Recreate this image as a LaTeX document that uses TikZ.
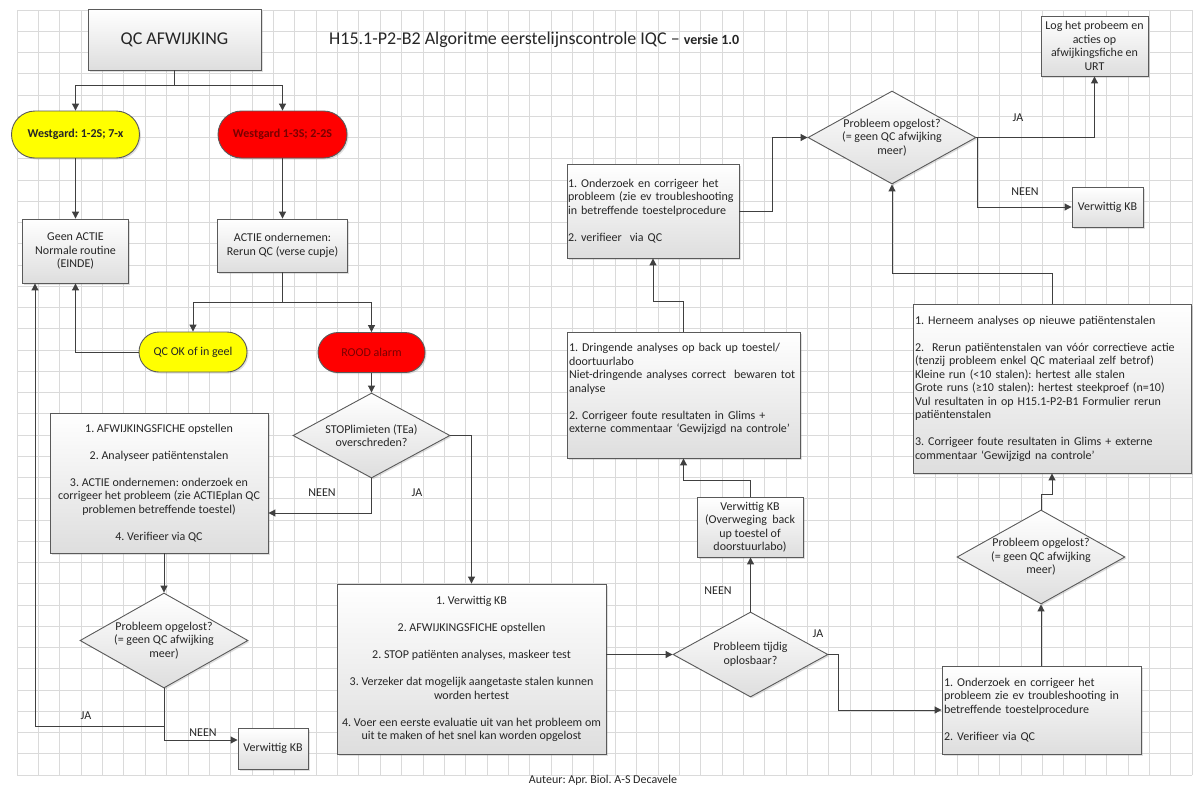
\documentclass[tikz,border=0pt]{standalone}
\usepackage{fontspec}
\setmainfont{Carlito}
\usetikzlibrary{shapes.geometric,shapes.misc,shadows,arrows.meta}
\definecolor{lijn}{HTML}{404040}
\definecolor{rand}{HTML}{5A5A5A}
\definecolor{raster}{HTML}{DADADA}
\definecolor{donkerrood}{HTML}{7A0000}
\definecolor{geel}{HTML}{FFFF00}
\definecolor{rood}{HTML}{FF0000}
\newcommand{\tekst}{\fontsize{12}{13.5}\selectfont}
\frenchspacing
\hyphenpenalty=10000

\begin{document}
\begin{tikzpicture}[x=1pt,y=1pt,
	every node/.style={inner sep=0pt,text=black!85},
	schaduw/.style={drop shadow={opacity=0.25,shadow xshift=1.5pt,shadow yshift=-1.5pt}},
	doos/.style={draw=rand,line width=0.9pt,top color=white,bottom color=black!13,schaduw,font=\tekst},
	midden/.style={doos,align=center},
	links/.style={doos,align=left,text width=#1},
	ovaal/.style={rounded rectangle,draw=rand,line width=0.9pt,schaduw,font=\tekst},
	keuze/.style={diamond,draw=rand,line width=0.9pt,top color=white,bottom color=black!13,schaduw},
	pijl/.style={draw=lijn,line width=1pt,-{Triangle[length=7pt,width=7pt]}},
	lijntje/.style={draw=lijn,line width=1pt},
	antw/.style={font=\tekst}]
							\fill [white] (0,0) rectangle (1200,-785);
							\useasboundingbox (0,0) rectangle (1200,-785);
							\foreach \i in {0,...,55}
								\draw [raster,line width=0.7pt] ({17+\i*21.364},-10) -- ++(0,-765);
							\foreach \j in {0,...,36}
								\draw [raster,line width=0.7pt] (17,{-10-\j*21.25}) -- ++(1175,0);
							\node [midden,minimum width=173,minimum height=61,font=\fontsize{18}{20}\selectfont] (qcafw) at (174.5,-39.5) {QC AFWIJKING};
							\node [anchor=west,font=\fontsize{18}{20}\selectfont] (titel) at (329,-40) {H15.1-P2-B2 Algoritme eerstelijnscontrole IQC -- {\fontsize{14}{16}\selectfont\bfseries versie 1.0}};
							\node [ovaal,fill=geel,minimum width=128,minimum height=47,font=\tekst\bfseries] (wgyel) at (75.5,-134.5) {Westgard: 1-2S; 7-x};
							\node [ovaal,fill=rood,minimum width=129,minimum height=47,font=\tekst\bfseries,text=donkerrood] (wgred) at (282.5,-134.5) {Westgard 1-3S; 2-2S};
							\node [midden,minimum width=106,minimum height=64] (geen) at (75.5,-251) {Geen ACTIE\\Normale routine\\(EINDE)};
							\node [midden,minimum width=130,minimum height=53] (rerun) at (282.5,-245.5) {ACTIE ondernemen:\\Rerun QC (verse cupje)};
							\node [ovaal,fill=geel,minimum width=108,minimum height=40] (qcok) at (193,-352) {QC OK of in geel};
							\node [ovaal,fill=rood,minimum width=107,minimum height=40,text=donkerrood] (rood) at (371.5,-352.5) {ROOD alarm};
							\node [keuze,minimum width=157,minimum height=85,label={[align=center,font=\tekst]center:{STOPlimieten (TEa)\\overschreden?}}] (stop) at (371.5,-435.5) {};
							\node [midden,minimum width=218,minimum height=140] (afw) at (159,-483) {1. AFWIJKINGSFICHE opstellen\\[13.5pt]2. Analyseer patiëntenstalen\\[13.5pt]3. ACTIE ondernemen: onderzoek en\\corrigeer het probleem (zie ACTIEplan QC\\problemen betreffende toestel)\\[13.5pt]4. Verifieer via QC};
							\node [keuze,minimum width=168,minimum height=95,label={[align=center,font=\tekst]center:{Probleem opgelost?\\(= geen QC afwijking\\meer)}}] (opgl1) at (164,-640.5) {};
							\node [midden,minimum width=70,minimum height=41] (kb1) at (273,-748.5) {Verwittig KB};
							\node [midden,minimum width=269,minimum height=170] (stopbox) at (471.5,-669) {1. Verwittig KB\\[13.5pt]2. AFWIJKINGSFICHE opstellen\\[13.5pt]2. STOP patiënten analyses, maskeer test\\[13.5pt]3. Verzeker dat mogelijk aangetaste stalen kunnen\\worden hertest\\[13.5pt]4. Voer een eerste evaluatie uit van het probleem om\\uit te maken of het snel kan worden opgelost};
							\node [keuze,minimum width=155,minimum height=85,label={[align=center,font=\tekst]center:{Probleem tijdig\\oplosbaar?}}] (tijdig) at (750.5,-654.5) {};
							\node [midden,minimum width=106,minimum height=60] (kb2) at (750,-527) {Verwittig KB\\(Overweging\ \ back\\up toestel of\\doorstuurlabo)};
							\node [links=229,minimum width=233,minimum height=126] (dring) at (683.5,-395) {1. Dringende analyses op back up toestel/\\doortuurlabo\\Niet-dringende analyses correct\ \ bewaren tot\\analyse\\[13.5pt]2. Corrigeer foute resultaten in Glims +\\externe commentaar ‘Gewijzigd na controle’\\~};
							\node [links=170,minimum width=172,minimum height=94] (onderz1) at (653,-211) {1. Onderzoek en corrigeer het\\probleem (zie ev troubleshooting\\in betreffende toestelprocedure\\[13.5pt]2. verifieer\ \ via QC};
							\node [keuze,minimum width=168,minimum height=93,label={[align=center,font=\tekst]center:{Probleem opgelost?\\(= geen QC afwijking\\meer)}}] (opgl2) at (892,-137.5) {};
							\node [midden,minimum width=107,minimum height=60] (log) at (1094.5,-46) {Log het probeem en\\acties op\\afwijkingsfiche en\\URT};
							\node [midden,minimum width=71,minimum height=40] (kb3) at (1107.5,-207) {Verwittig KB};
							\node [links=274,minimum width=278,minimum height=169] (herneem) at (1052,-388.5) {1. Herneem analyses op nieuwe patiëntenstalen\\[13.5pt]2.\ \ Rerun patiëntenstalen van vóór correctieve actie\\(tenzij probleem enkel QC materiaal zelf betrof)\\Kleine run (<10 stalen): hertest alle stalen\\Grote runs (≥10 stalen): hertest steekproef (n=10)\\Vul resultaten in op H15.1-P2-B1 Formulier rerun\\patiëntenstalen\\[13.5pt]3. Corrigeer foute resultaten in Glims + externe\\commentaar ‘Gewijzigd na controle’};
							\node [keuze,minimum width=168,minimum height=94,label={[align=center,font=\tekst]center:{Probleem opgelost?\\(= geen QC afwijking\\meer)}}] (opgl3) at (1041,-557) {};
							\node [links=195,minimum width=199,minimum height=88] (onderz2) at (1041.5,-710) {1. Onderzoek en corrigeer het\\probleem zie ev troubleshooting in\\betreffende toestelprocedure\\[13.5pt]2. Verifieer via QC};
							\node [font=\tekst] (auteur) at (603,-780) {Auteur: Apr. Biol. A-S Decavele};
							\coordinate (splits1) at (174.5,-85);
							\coordinate (splits2) at (282.5,-302);
							\coordinate (jaknik) at (35,-726);
							\draw [lijntje] (qcafw.south) -- (splits1);
							\draw [pijl] (splits1) -| (wgyel.north);
							\draw [pijl] (splits1) -| (wgred.north);
							\draw [pijl] (wgyel.south) -- (geen.north);
							\draw [pijl] (wgred.south) -- (rerun.north);
							\draw [lijntje] (rerun.south) -- (splits2);
							\draw [pijl] (splits2) -| (qcok.north);
							\draw [pijl] (splits2) -| (rood.north);
							\draw [pijl] (qcok.west) -| (geen.south);
							\draw [pijl] (rood.south) -- (stop.north);
							\draw [pijl] (stop.south) |- (afw.east |- 0,-513);
							\node [antw] (neen1) at (322,-493) {NEEN};
							\draw [pijl] (stop.east) -| (stopbox.north);
							\node [antw] (ja1) at (417,-493) {JA};
							\draw [pijl] (afw.south -| opgl1.north) -- (opgl1.north);
							\draw [pijl] (opgl1.south) |- (jaknik) -- (jaknik |- geen.south);
							\node [antw] (ja2) at (86,-716) {JA};
							\draw [pijl] (opgl1.south) |- (kb1.west |- 0,-740);
							\node [antw] (neen2) at (203,-733) {NEEN};
							\draw [pijl] (stopbox.east |- tijdig.west) -- (tijdig.west);
							\draw [pijl] (tijdig.north) -- (tijdig.north |- kb2.south);
							\node [antw] (neen3) at (718,-591) {NEEN};
							\draw [pijl] (kb2.north) -- ++(0,16) -| (dring.south);
							\draw [pijl] (tijdig.east) -- ++(10,0) |- (onderz2.west);
							\node [antw] (ja3) at (818,-634) {JA};
							\draw [pijl] (onderz2.north -| opgl3.south) -- (opgl3.south);
							\draw [pijl] (opgl3.north) -- ++(0,15) -| (herneem.south);
							\draw [pijl] (herneem.north) -- ++(0,30) -| (opgl2.south);
							\draw [pijl] (dring.north) -- ++(0,30) -| (onderz1.south);
							\draw [pijl] (onderz1.east) -- ++(33,0) |- (opgl2.west);
							\draw [pijl] (opgl2.east) -| (log.south);
							\node [antw] (ja4) at (1018,-118) {JA};
							\draw [pijl] (opgl2.east) -- ++(1,0) |- (kb3.west);
							\node [antw] (neen4) at (1025,-192) {NEEN};
						\end{tikzpicture}
\end{document}
